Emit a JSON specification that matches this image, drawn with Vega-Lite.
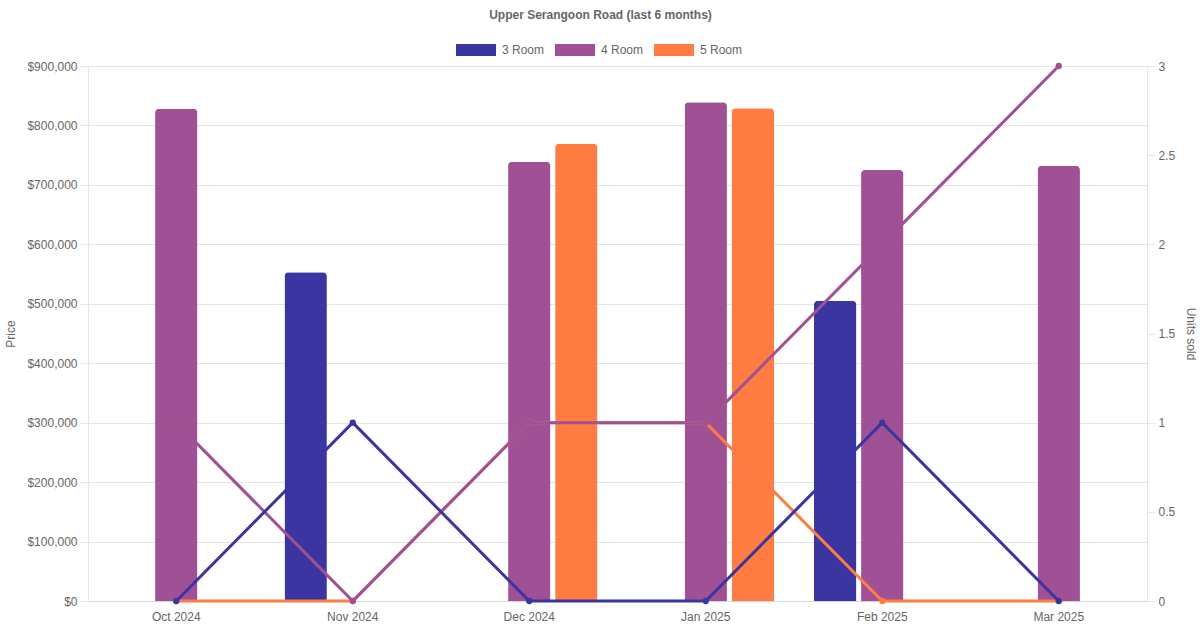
{
  "$schema": "https://vega.github.io/schema/vega-lite/v6.json",
  "width": 1059,
  "height": 535,
  "autosize": "none",
  "padding": {"left": 88, "top": 66, "right": 53, "bottom": 29},
  "background": "white",
  "title": {
    "text": "Upper Serangoon Road (last 6 months)",
    "anchor": "middle",
    "dx": -17,
    "offset": 8,
    "fontSize": 12,
    "fontWeight": "bold",
    "font": "Liberation Sans",
    "color": "#666666"
  },
  "data": {
    "values": [
      {"month": "Oct 2024", "type": "3 Room", "price": null, "units": 0},
      {"month": "Oct 2024", "type": "4 Room", "price": 828000, "units": 1},
      {"month": "Oct 2024", "type": "5 Room", "price": null, "units": 0},
      {"month": "Nov 2024", "type": "3 Room", "price": 553000, "units": 1},
      {"month": "Nov 2024", "type": "4 Room", "price": null, "units": 0},
      {"month": "Nov 2024", "type": "5 Room", "price": null, "units": 0},
      {"month": "Dec 2024", "type": "3 Room", "price": null, "units": 0},
      {"month": "Dec 2024", "type": "4 Room", "price": 739000, "units": 1},
      {"month": "Dec 2024", "type": "5 Room", "price": 769000, "units": 1},
      {"month": "Jan 2025", "type": "3 Room", "price": null, "units": 0},
      {"month": "Jan 2025", "type": "4 Room", "price": 839000, "units": 1},
      {"month": "Jan 2025", "type": "5 Room", "price": 829000, "units": 1},
      {"month": "Feb 2025", "type": "3 Room", "price": 505000, "units": 1},
      {"month": "Feb 2025", "type": "4 Room", "price": 725000, "units": 2},
      {"month": "Feb 2025", "type": "5 Room", "price": null, "units": 0},
      {"month": "Mar 2025", "type": "3 Room", "price": null, "units": 0},
      {"month": "Mar 2025", "type": "4 Room", "price": 732000, "units": 3},
      {"month": "Mar 2025", "type": "5 Room", "price": null, "units": 0}
    ]
  },
  "encoding": {
    "x": {
      "field": "month",
      "type": "nominal",
      "sort": ["Oct 2024", "Nov 2024", "Dec 2024", "Jan 2025", "Feb 2025", "Mar 2025"],
      "scale": {"paddingInner": 0, "paddingOuter": 0},
      "title": null,
      "axis": {
        "labelAngle": 0,
        "ticks": false,
        "grid": false,
        "labelPadding": 10,
        "domainColor": "#d6d6d6"
      }
    }
  },
  "layer": [
    {
      "mark": {"type": "bar", "cornerRadiusTopLeft": 4, "cornerRadiusTopRight": 4},
      "encoding": {
        "xOffset": {
          "field": "type",
          "type": "nominal",
          "scale": {"domain": ["3 Room", "4 Room", "5 Room"], "paddingInner": 0.1, "paddingOuter": 0.425}
        },
        "y": {
          "field": "price",
          "type": "quantitative",
          "title": "Price",
          "scale": {"domain": [0, 900000], "nice": false},
          "axis": {
            "orient": "left",
            "format": "$,.0f",
            "values": [0, 100000, 200000, 300000, 400000, 500000, 600000, 700000, 800000, 900000],
            "grid": true,
            "titlePadding": 9
          }
        },
        "color": {
          "field": "type",
          "type": "nominal",
          "scale": {"domain": ["3 Room", "4 Room", "5 Room"], "range": ["#3a35a0", "#a05195", "#ff7c43"]},
          "legend": {
            "orient": "none",
            "legendX": 368,
            "legendY": -36,
            "direction": "horizontal",
            "title": null,
            "symbolType": "M-1,-0.3H1V0.3H-1Z",
            "symbolSize": 1600,
            "symbolStrokeWidth": 0,
            "symbolOpacity": 1,
            "labelOffset": 6,
            "columnPadding": 10,
            "labelFontSize": 12,
            "labelColor": "#666666",
            "labelFont": "Liberation Sans"
          }
        }
      }
    },
    {
      "encoding": {
        "y": {
          "field": "units",
          "type": "quantitative",
          "title": "Units sold",
          "scale": {"domain": [0, 3], "nice": false},
          "axis": {
            "orient": "right",
            "format": ".1~f",
            "values": [0, 0.5, 1, 1.5, 2, 2.5, 3],
            "grid": false,
            "titlePadding": 9
          }
        }
      },
      "layer": [
        {
          "transform": [{"filter": "datum.type === '5 Room'"}],
          "mark": {"type": "line", "color": "#ff7c43", "strokeWidth": 3, "point": {"filled": true, "size": 40, "color": "#ff7c43"}}
        },
        {
          "transform": [{"filter": "datum.type === '4 Room'"}],
          "mark": {"type": "line", "color": "#a05195", "strokeWidth": 3, "point": {"filled": true, "size": 40, "color": "#a05195"}}
        },
        {
          "transform": [{"filter": "datum.type === '3 Room'"}],
          "mark": {"type": "line", "color": "#3a35a0", "strokeWidth": 3, "point": {"filled": true, "size": 40, "color": "#3a35a0"}}
        }
      ]
    }
  ],
  "resolve": {"scale": {"y": "independent"}},
  "config": {
    "view": {"stroke": null},
    "font": "Liberation Sans",
    "axis": {
      "labelFont": "Liberation Sans",
      "titleFont": "Liberation Sans",
      "labelFontSize": 12,
      "titleFontSize": 12,
      "titleFontWeight": "normal",
      "labelColor": "#666666",
      "titleColor": "#666666",
      "gridColor": "#e5e5e5",
      "domainColor": "#e5e5e5",
      "tickColor": "#e5e5e5",
      "tickSize": 8,
      "labelPadding": 3
    }
  }
}
